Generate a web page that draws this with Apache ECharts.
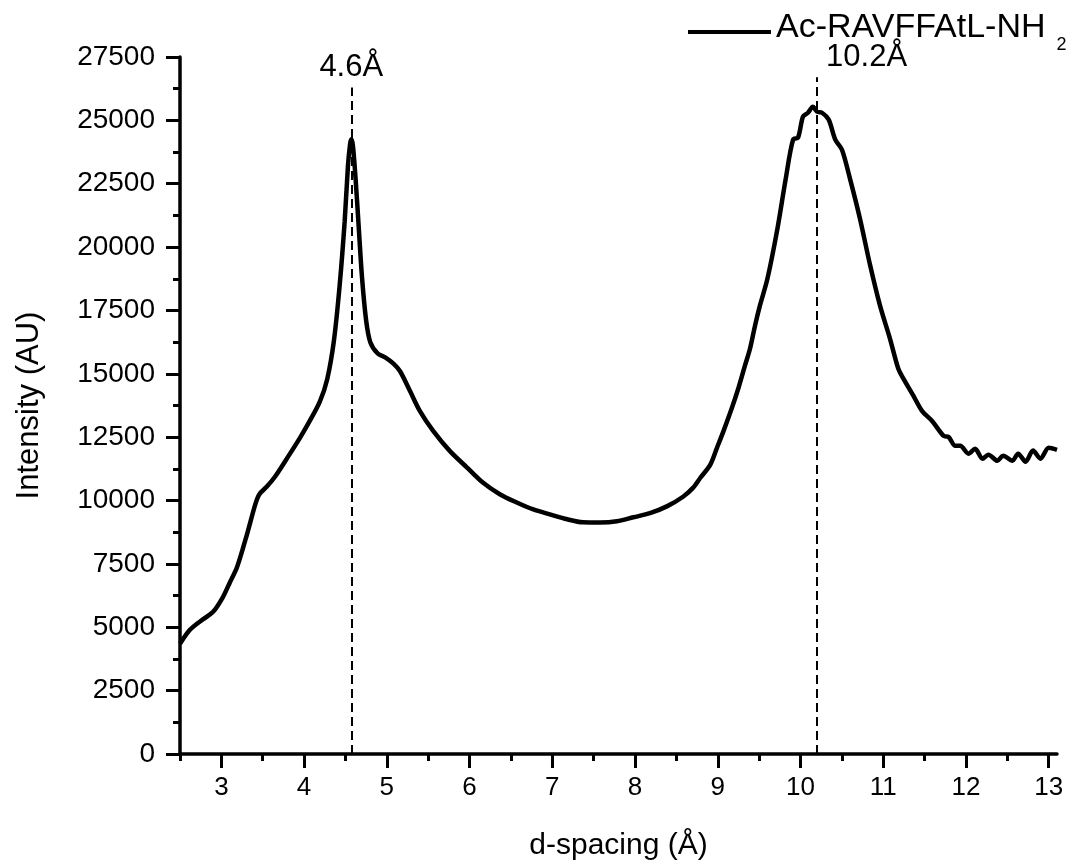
<!DOCTYPE html>
<html>
<head>
<meta charset="utf-8">
<script src="https://cdn.jsdelivr.net/npm/echarts@6/dist/echarts.min.js"></script>
<style>
  html, body { margin: 0; padding: 0; background: #fff; }
  #chart { width: 1083px; height: 866px; }
</style>
</head>
<body>
<div id="chart"></div>
<script>
// d-spacing (Å) and intensity (AU)
const dSpacing = [
  2.50, 2.62, 2.75, 2.90, 3.02, 3.10, 3.19, 3.31, 3.41, 3.46, 3.55, 3.65, 3.80, 3.95, 4.07, 4.19,
  4.28, 4.36, 4.43, 4.49, 4.53, 4.555, 4.57, 4.59, 4.62, 4.66, 4.70, 4.75, 4.80, 4.89, 4.98, 5.08, 5.16, 5.28,
  5.40, 5.56, 5.76, 5.97, 6.16, 6.37, 6.57, 6.77, 6.97, 7.18, 7.37, 7.58, 7.78, 7.98, 8.18, 8.39,
  8.58, 8.70, 8.79, 8.91, 8.99, 9.07, 9.17, 9.25, 9.33, 9.39, 9.45, 9.51, 9.60, 9.72, 9.82, 9.91, 9.97,
  10.03, 10.09, 10.15, 10.20, 10.26, 10.34, 10.42, 10.50, 10.60, 10.72, 10.84, 10.96, 11.08, 11.18,
  11.24, 11.36, 11.47, 11.59, 11.73, 11.79, 11.87, 11.93, 12.03, 12.11, 12.20, 12.27, 12.38, 12.45,
  12.56, 12.63, 12.72, 12.81, 12.90, 13.00, 13.10
];
const intensity = [
  4350, 4900, 5250, 5610, 6200, 6750, 7375, 8670, 9850, 10250, 10550, 10950, 11700, 12475, 13150, 13900,
  14800, 16300, 18500, 21000, 23200, 24050, 24250, 24000, 22800, 20800, 18800, 17100, 16250, 15800, 15650, 15400, 15100, 14320,
  13530, 12750, 11960, 11300, 10710, 10240, 9925, 9650, 9455, 9260, 9140, 9130, 9180, 9340, 9500, 9780,
  10150, 10500, 10900, 11420, 12080, 12750, 13650, 14440, 15340, 16000, 16900, 17700, 18750, 20710, 22670, 24240, 24320,
  25150, 25300, 25540, 25340, 25300, 25030, 24240, 23850, 22670, 21100, 19300, 17700, 16400, 15220,
  14830, 14160, 13530, 13140, 12550, 12510, 12160, 12160, 11850, 12040, 11650, 11810, 11570, 11770,
  11570, 11850, 11530, 11970, 11650, 12080, 12000
];
const peakPositions = [4.57, 10.2];
const peakLabels = ['4.6Å', '10.2Å'];
const peakLineTops = [26300, 26700];
const xMajorTicks = [3, 4, 5, 6, 7, 8, 9, 10, 11, 12, 13];
const xMinorTicks = [2.5, 3.5, 4.5, 5.5, 6.5, 7.5, 8.5, 9.5, 10.5, 11.5, 12.5];

const font = 'Liberation Sans, Arial, Helvetica, sans-serif';

const chart = echarts.init(document.getElementById('chart'));

const markData = peakPositions.map((x, i) => [
  {
    coord: [x, 0],
    label: i === 0
      ? {formatter: peakLabels[i], position: 'end', distance: 4}
      : {formatter: peakLabels[i], position: 'end', align: 'left', padding: [0, 0, 0, 9], distance: 4}
  },
  {coord: [x, peakLineTops[i]]}
]);

chart.setOption({
  animation: false,
  grid: {left: 180, right: 26, top: 57, bottom: 108},
  legend: {
    left: 683,
    top: 6,
    icon: 'rect',
    itemWidth: 83,
    itemHeight: 4,
    itemGap: 8,
    data: ['Ac-RAVFFAtL-NH2'],
    formatter: function () {
      return '{n|Ac-RAVFFAtL-NH}{s|2}'
    },
    textStyle: {
      color: '#000',
      fontFamily: font,
      rich: {
        n: {fontSize: 34, fontFamily: font, color: '#000', padding: [0, 0, 8, 0]},
        s: {fontSize: 18, fontFamily: font, color: '#000', padding: [27, 0, 0, 11]}
      }
    }
  },
  xAxis: [
    {
      type: 'value',
      min: 2.5,
      max: 13.1,
      name: 'd-spacing (Å)',
      nameLocation: 'middle',
      nameGap: 77,
      nameTextStyle: {fontSize: 30, fontFamily: font, color: '#000'},
      splitLine: {show: false},
      axisLine: {show: true, onZero: false, lineStyle: {color: '#000', width: 3.5}},
      axisTick: {show: true, customValues: xMajorTicks, length: 14, lineStyle: {color: '#000', width: 3}},
      axisLabel: {customValues: xMajorTicks, margin: 21, fontSize: 26, fontFamily: font, color: '#000'}
    },
    {
      type: 'value',
      min: 2.5,
      max: 13.1,
      position: 'bottom',
      splitLine: {show: false},
      axisLine: {show: false},
      axisTick: {show: true, customValues: xMinorTicks, length: 7, lineStyle: {color: '#000', width: 3}},
      axisLabel: {show: false}
    }
  ],
  yAxis: {
    type: 'value',
    min: 0,
    max: 27500,
    interval: 2500,
    name: 'Intensity (AU)',
    nameLocation: 'middle',
    nameGap: 135,
    nameTextStyle: {fontSize: 31, fontFamily: font, color: '#000'},
    splitLine: {show: false},
    axisLine: {show: true, onZero: false, lineStyle: {color: '#000', width: 3.5}},
    axisTick: {show: true, length: 14, lineStyle: {color: '#000', width: 3}},
    minorTick: {show: true, splitNumber: 2, length: 7, lineStyle: {color: '#000', width: 3}},
    axisLabel: {
      margin: 25,
      fontSize: 28,
      fontFamily: font,
      color: '#000',
      formatter: function (v) { return String(v) }
    }
  },
  series: [
    {
      name: 'Ac-RAVFFAtL-NH2',
      type: 'line',
      xAxisIndex: 0,
      symbol: 'none',
      smooth: 0.3,
      lineStyle: {color: '#000', width: 4.5},
      itemStyle: {color: '#000'},
      data: dSpacing.map((x, i) => [x, intensity[i]]),
      markLine: {
        silent: true,
        symbol: 'none',
        lineStyle: {color: '#000', width: 2, type: [9, 5]},
        label: {color: '#000', fontSize: 31, fontFamily: font},
        data: markData
      }
    }
  ]
});
</script>
</body>
</html>
